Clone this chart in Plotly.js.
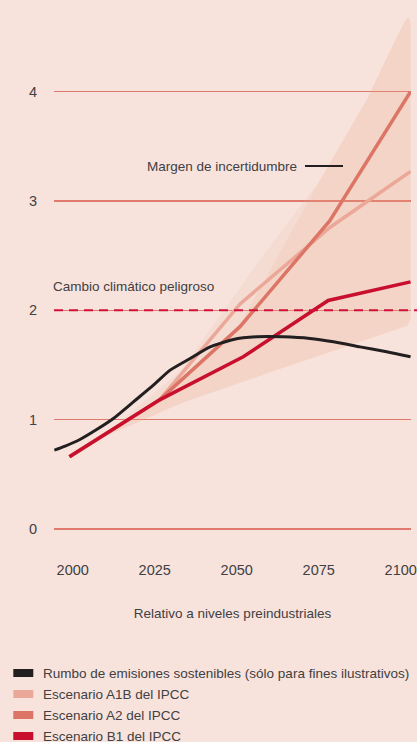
<!DOCTYPE html>
<html>
<head>
<meta charset="utf-8">
<script src="https://cdn.plot.ly/plotly-3.0.1.min.js"></script>
<style>
html,body{margin:0;padding:0;background:#f8e3dc;}
#chart{width:417px;height:742px;}
</style>
</head>
<body>
<div id="chart"></div>
<script>
// ---- Data ----
const blackYears = [1994.4, 1997.7, 2002.2, 2007.3, 2012.4, 2018.5, 2024.6, 2029.7, 2035.8, 2041.9, 2049.0, 2056.1, 2064.2, 2072.3, 2079.5, 2087.6, 2095.7, 2103.0];
const blackVals  = [0.72, 0.757, 0.818, 0.909, 1.01, 1.162, 1.315, 1.452, 1.559, 1.665, 1.733, 1.757, 1.757, 1.742, 1.711, 1.665, 1.62, 1.574];

const a1bYears = [1999.0, 2026.5, 2051.1, 2078.5, 2103.0];
const a1bVals  = [0.66, 1.18, 2.06, 2.76, 3.27];

const a2Years = [1999.0, 2026.5, 2051.0, 2078.4, 2103.0];
const a2Vals  = [0.66, 1.18, 1.85, 2.82, 4.0];

const b1Years = [1999.0, 2026.5, 2052.0, 2077.9, 2103.0];
const b1Vals  = [0.66, 1.18, 1.574, 2.09, 2.26];

// uncertainty band edges
const bandLowYears = [2008, 2033, 2060, 2100.5, 2102.2, 2103.0];
const bandLowVals  = [0.82, 1.15, 1.43, 1.84, 1.86, 1.92];
const bandOuterUpYears = [2008, 2033, 2058, 2075.4, 2089.7, 2098, 2101.6, 2102.5, 2103.0];
const bandOuterUpVals  = [0.82, 1.45, 2.5, 3.19, 3.93, 4.45, 4.66, 4.68, 4.62];
const bandInnerUpYears = [2008, 2026.5, 2051, 2075.4, 2089.7, 2098, 2101.6, 2102.5, 2103.0];
const bandInnerUpVals  = [0.82, 1.2, 1.87, 3.19, 3.93, 4.45, 4.66, 4.68, 4.62];

const dangerLevel = 2;
const xTicks = [2000, 2025, 2050, 2075, 2100];
const yTicks = [0, 1, 2, 3, 4];

const seriesNames = [
  "Rumbo de emisiones sostenibles (sólo para fines ilustrativos)",
  "Escenario A1B del IPCC",
  "Escenario A2 del IPCC",
  "Escenario B1 del IPCC"
];
const seriesColors = ["#231f20", "#eba898", "#dc7566", "#c8102e"];
const dangerLabel = "Cambio climático peligroso";
const bandLabel = "Margen de incertidumbre";
const xTitle = "Relativo a niveles preindustriales";

// ---- Layout geometry ----
const W = 417, H = 742;
const mL = 54, mR = 6, mT = 10, mB = 187;
const plotW = W - mL - mR, plotH = H - mT - mB;
const px2x = px => (px - mL) / plotW;          // pixel -> paper x
const py2y = py => (H - mB - py) / plotH;      // pixel -> paper y

const FONT = "'Liberation Sans', Arial, sans-serif";
const TXT = "#414042";
const FS = 13.5, TFS = 14.5;

function poly(xl, yl, xu, yu) {
  return {
    x: xl.concat(xu.slice().reverse()),
    y: yl.concat(yu.slice().reverse())
  };
}
const outer = poly(bandLowYears, bandLowVals, bandOuterUpYears, bandOuterUpVals);
const inner = poly(bandLowYears, bandLowVals, bandInnerUpYears, bandInnerUpVals);

const traces = [
  {x: outer.x, y: outer.y, type: "scatter", mode: "lines", fill: "toself",
   fillcolor: "rgba(228,160,135,0.11)", line: {width: 0}, hoverinfo: "skip", showlegend: false},
  {x: inner.x, y: inner.y, type: "scatter", mode: "lines", fill: "toself",
   fillcolor: "rgba(228,160,135,0.13)", line: {width: 0}, hoverinfo: "skip", showlegend: false},
  {x: a1bYears, y: a1bVals, type: "scatter", mode: "lines", name: seriesNames[1],
   line: {color: seriesColors[1], width: 3.5}, showlegend: false},
  {x: a2Years, y: a2Vals, type: "scatter", mode: "lines", name: seriesNames[2],
   line: {color: seriesColors[2], width: 3.5}, showlegend: false},
  {x: b1Years, y: b1Vals, type: "scatter", mode: "lines", name: seriesNames[3],
   line: {color: seriesColors[3], width: 3.5}, showlegend: false},
  {x: blackYears, y: blackVals, type: "scatter", mode: "lines", name: seriesNames[0],
   line: {color: seriesColors[0], width: 3, shape: "spline", smoothing: 0.6}, showlegend: false}
];

const shapes = [
  {type: "line", xref: "paper", yref: "y", x0: 0, x1: px2x(417), y0: dangerLevel, y1: dangerLevel,
   line: {color: "#d0103a", width: 2, dash: "9px,6px"}},
  {type: "line", xref: "paper", yref: "paper", x0: px2x(305), x1: px2x(343), y0: py2y(166), y1: py2y(166),
   line: {color: "#231f20", width: 2}}
];
const annotations = [
  {xref: "paper", yref: "paper", x: px2x(298.5), y: py2y(166), xanchor: "right", yanchor: "middle",
   text: bandLabel, showarrow: false, font: {family: FONT, size: FS, color: TXT}},
  {xref: "paper", yref: "paper", x: px2x(51), y: py2y(286.5), xanchor: "left", yanchor: "middle",
   text: dangerLabel, showarrow: false, font: {family: FONT, size: FS, color: TXT}}
];
// legend (drawn manually)
const legendY = [673, 694, 715, 736];
seriesNames.forEach((name, i) => {
  shapes.push({type: "rect", xref: "paper", yref: "paper",
    x0: px2x(13.3), x1: px2x(33.3), y0: py2y(legendY[i] + 4), y1: py2y(legendY[i] - 4),
    fillcolor: seriesColors[i], line: {width: 0}});
  annotations.push({xref: "paper", yref: "paper", x: px2x(40.5), y: py2y(legendY[i]),
    xanchor: "left", yanchor: "middle", text: name, showarrow: false,
    font: {family: FONT, size: FS, color: TXT}});
});

const layout = {
  width: W, height: H,
  margin: {l: mL, r: mR, t: mT, b: mB, pad: 0},
  paper_bgcolor: "#f8e3dc", plot_bgcolor: "#f8e3dc",
  showlegend: false,
  font: {family: FONT, size: FS, color: TXT},
  xaxis: {
    range: [1994.3, 2103.14], tickvals: xTicks, ticktext: xTicks.map(String),
    showgrid: false, zeroline: false, showline: false, ticks: "",
    ticklabelstandoff: 4, ticklabeloverflow: "allow",
    tickfont: {family: FONT, size: TFS, color: TXT},
    title: {text: xTitle, font: {family: FONT, size: FS, color: TXT}, standoff: 32},
    automargin: false
  },
  yaxis: {
    range: [-0.239, 4.747], tickvals: yTicks, ticktext: yTicks.map(String),
    showgrid: true, gridcolor: "#e07a6e", gridwidth: 1.3,
    zeroline: false, showline: false, ticks: "", ticklabelstandoff: 16,
    tickfont: {family: FONT, size: TFS, color: TXT},
    automargin: false
  },
  shapes: shapes,
  annotations: annotations
};

Plotly.newPlot("chart", traces, layout, {displayModeBar: false, staticPlot: true});
</script>
</body>
</html>
